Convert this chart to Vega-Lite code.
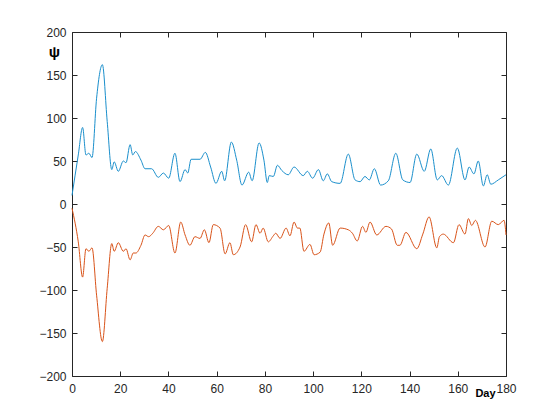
{
  "$schema": "https://vega.github.io/schema/vega-lite/v6.json",
  "width": 434,
  "height": 344,
  "autosize": "none",
  "padding": {"left": 72, "top": 32, "right": 54, "bottom": 44},
  "background": "white",
  "datasets": {
    "up": [
      {"day": 0, "psi": 10}, {"day": 2.6, "psi": 57}, {"day": 4.4, "psi": 89}, {"day": 5.8, "psi": 57},
      {"day": 7, "psi": 59}, {"day": 8.3, "psi": 54}, {"day": 10.2, "psi": 123}, {"day": 12.6, "psi": 162},
      {"day": 14.6, "psi": 96}, {"day": 16.5, "psi": 40}, {"day": 17.5, "psi": 49}, {"day": 19.2, "psi": 38},
      {"day": 21.3, "psi": 50}, {"day": 22.4, "psi": 48}, {"day": 24.1, "psi": 69}, {"day": 25.2, "psi": 57},
      {"day": 26.3, "psi": 61}, {"day": 28.6, "psi": 51}, {"day": 30.3, "psi": 41}, {"day": 33, "psi": 41},
      {"day": 35.8, "psi": 31}, {"day": 37.9, "psi": 36}, {"day": 40.1, "psi": 30}, {"day": 42.7, "psi": 59},
      {"day": 44.8, "psi": 26}, {"day": 46.9, "psi": 40}, {"day": 48, "psi": 36}, {"day": 49.4, "psi": 52},
      {"day": 53.1, "psi": 52}, {"day": 55.3, "psi": 60}, {"day": 57.5, "psi": 43}, {"day": 59.7, "psi": 24},
      {"day": 62.1, "psi": 38}, {"day": 63.3, "psi": 27}, {"day": 66.1, "psi": 72}, {"day": 68.3, "psi": 51},
      {"day": 70.5, "psi": 22}, {"day": 73.3, "psi": 37}, {"day": 74.7, "psi": 27}, {"day": 77.6, "psi": 71},
      {"day": 79.6, "psi": 51}, {"day": 81, "psi": 25}, {"day": 81.8, "psi": 33}, {"day": 83.5, "psi": 32},
      {"day": 85.2, "psi": 45}, {"day": 87, "psi": 39}, {"day": 89.7, "psi": 34}, {"day": 92.1, "psi": 43},
      {"day": 95.9, "psi": 33}, {"day": 97.6, "psi": 38}, {"day": 99.8, "psi": 30}, {"day": 102.2, "psi": 40},
      {"day": 104.2, "psi": 27}, {"day": 105.9, "psi": 35}, {"day": 107.7, "psi": 26}, {"day": 111.2, "psi": 24},
      {"day": 114.6, "psi": 58}, {"day": 117.4, "psi": 28}, {"day": 119.5, "psi": 26}, {"day": 121.5, "psi": 32},
      {"day": 123.3, "psi": 28}, {"day": 125.4, "psi": 41}, {"day": 128, "psi": 22}, {"day": 131.2, "psi": 27},
      {"day": 134.3, "psi": 59}, {"day": 137.2, "psi": 28}, {"day": 140.2, "psi": 25}, {"day": 143, "psi": 58},
      {"day": 146.1, "psi": 38}, {"day": 148.8, "psi": 64}, {"day": 151.5, "psi": 28}, {"day": 153.3, "psi": 33},
      {"day": 156.1, "psi": 22}, {"day": 159.8, "psi": 65}, {"day": 163, "psi": 28}, {"day": 164.7, "psi": 43},
      {"day": 166.7, "psi": 35}, {"day": 168.5, "psi": 50}, {"day": 170.6, "psi": 21}, {"day": 172.2, "psi": 34},
      {"day": 173.7, "psi": 23}, {"day": 176.8, "psi": 28}, {"day": 180, "psi": 34}
    ],
    "down": [
      {"day": 0, "psi": -5}, {"day": 2.6, "psi": -44}, {"day": 4.4, "psi": -85}, {"day": 5.8, "psi": -52},
      {"day": 7, "psi": -55}, {"day": 8.3, "psi": -51}, {"day": 10.2, "psi": -106}, {"day": 12.6, "psi": -160},
      {"day": 14.6, "psi": -98}, {"day": 16.5, "psi": -46}, {"day": 17.5, "psi": -55}, {"day": 19.2, "psi": -45},
      {"day": 21.3, "psi": -55}, {"day": 22.4, "psi": -52}, {"day": 24.1, "psi": -65}, {"day": 25.4, "psi": -57},
      {"day": 26.5, "psi": -57}, {"day": 28.6, "psi": -48}, {"day": 30.3, "psi": -36}, {"day": 31.8, "psi": -38},
      {"day": 33.5, "psi": -34}, {"day": 35.8, "psi": -26}, {"day": 37.9, "psi": -30}, {"day": 40.1, "psi": -25},
      {"day": 42.7, "psi": -57}, {"day": 45.1, "psi": -21}, {"day": 46.9, "psi": -36}, {"day": 48.9, "psi": -48},
      {"day": 51, "psi": -38}, {"day": 53.1, "psi": -40}, {"day": 54.9, "psi": -30}, {"day": 56.8, "psi": -45},
      {"day": 58.6, "psi": -24}, {"day": 61.4, "psi": -28}, {"day": 63.5, "psi": -58}, {"day": 65.5, "psi": -45},
      {"day": 66.9, "psi": -59}, {"day": 69.7, "psi": -50}, {"day": 72, "psi": -24}, {"day": 74.5, "psi": -44},
      {"day": 76.3, "psi": -24}, {"day": 78, "psi": -34}, {"day": 79.3, "psi": -28}, {"day": 81.4, "psi": -44},
      {"day": 83.5, "psi": -37}, {"day": 84.5, "psi": -34}, {"day": 86.3, "psi": -40}, {"day": 88.8, "psi": -28},
      {"day": 90.4, "psi": -37}, {"day": 92.1, "psi": -21}, {"day": 93.5, "psi": -28}, {"day": 94.5, "psi": -28},
      {"day": 96.2, "psi": -55}, {"day": 98.7, "psi": -47}, {"day": 100.4, "psi": -59}, {"day": 102.9, "psi": -56},
      {"day": 104.5, "psi": -35}, {"day": 106.5, "psi": -22}, {"day": 108.1, "psi": -48}, {"day": 111.2, "psi": -28},
      {"day": 114.6, "psi": -30}, {"day": 116.3, "psi": -34}, {"day": 118.3, "psi": -43}, {"day": 120.5, "psi": -26},
      {"day": 121.9, "psi": -33}, {"day": 123.6, "psi": -21}, {"day": 126.4, "psi": -36}, {"day": 130.2, "psi": -26},
      {"day": 132.5, "psi": -29}, {"day": 134.9, "psi": -48}, {"day": 136, "psi": -48}, {"day": 138.5, "psi": -33},
      {"day": 143, "psi": -52}, {"day": 145.5, "psi": -35}, {"day": 148.1, "psi": -15}, {"day": 151.3, "psi": -51},
      {"day": 152.4, "psi": -38}, {"day": 154, "psi": -35}, {"day": 158.2, "psi": -45}, {"day": 160.5, "psi": -24},
      {"day": 163, "psi": -35}, {"day": 164.4, "psi": -17}, {"day": 165.8, "psi": -25}, {"day": 167.3, "psi": -19},
      {"day": 171.3, "psi": -50}, {"day": 174.1, "psi": -20}, {"day": 176.8, "psi": -24}, {"day": 179.2, "psi": -19},
      {"day": 180, "psi": -36}
    ]
  },
  "layer": [
    {
      "data": {"name": "up"},
      "mark": {"type": "line", "color": "#1a8fcc", "strokeWidth": 1, "interpolate": "monotone"},
      "encoding": {
        "x": {
          "field": "day", "type": "quantitative",
          "scale": {"domain": [0, 180], "nice": false, "zero": false},
          "axis": {"orient": "bottom", "values": [0, 20, 40, 60, 80, 100, 120, 140, 160, 180],
                   "labelFlush": false, "labelOverlap": false,
                   "title": "Day", "titleX": 413, "titleY": 17, "titleAlign": "center",
                   "titleBaseline": "middle", "titleAngle": 0, "titleFontSize": 11,
                   "titleFontWeight": "bold", "labelPadding": 12}
        },
        "y": {
          "field": "psi", "type": "quantitative",
          "scale": {"domain": [-200, 200], "nice": false, "zero": false},
          "axis": {"orient": "left", "values": [-200, -150, -100, -50, 0, 50, 100, 150, 200],
                   "labelFlush": false, "labelOverlap": false,
                   "title": "ψ", "titleX": -18, "titleY": 19, "titleAlign": "center",
                   "titleBaseline": "middle", "titleAngle": 0, "titleFontSize": 15,
                   "titleFontWeight": "bold", "labelPadding": 11}
        }
      }
    },
    {
      "data": {"name": "down"},
      "mark": {"type": "line", "color": "#d95319", "strokeWidth": 1, "interpolate": "monotone"},
      "encoding": {
        "x": {
          "field": "day", "type": "quantitative",
          "scale": {"domain": [0, 180], "nice": false, "zero": false},
          "axis": {"orient": "top", "values": [0, 20, 40, 60, 80, 100, 120, 140, 160, 180],
                   "labels": false, "title": null}
        },
        "y": {
          "field": "psi", "type": "quantitative",
          "scale": {"domain": [-200, 200], "nice": false, "zero": false},
          "axis": {"orient": "right", "values": [-200, -150, -100, -50, 0, 50, 100, 150, 200],
                   "labels": false, "title": null}
        }
      }
    }
  ],
  "resolve": {"axis": {"x": "independent", "y": "independent"}},
  "config": {
    "view": {"stroke": null},
    "font": "Liberation Sans",
    "axis": {
      "grid": false,
      "domainColor": "#262626",
      "domainWidth": 1,
      "tickColor": "#262626",
      "tickWidth": 1,
      "tickSize": -5,
      "labelColor": "#262626",
      "labelFont": "Liberation Sans",
      "labelFontSize": 12,
      "titleColor": "#000000",
      "titleFont": "Liberation Sans"
    }
  }
}
